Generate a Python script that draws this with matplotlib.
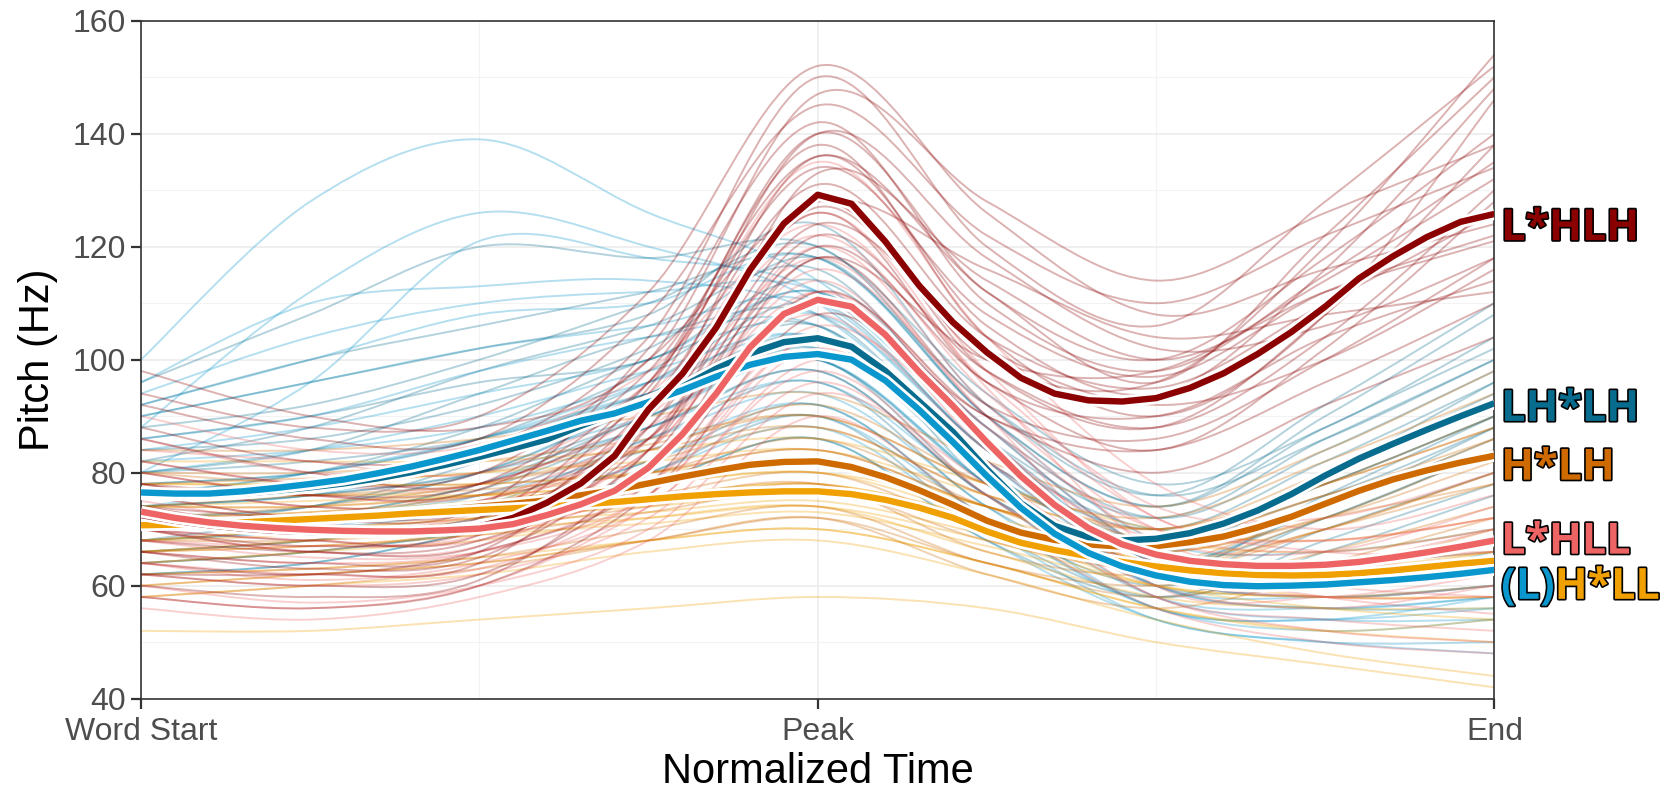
import numpy as np
import matplotlib
matplotlib.use("Agg")
import matplotlib.pyplot as plt
import matplotlib.patheffects as pe
from matplotlib.ticker import MultipleLocator
from matplotlib.path import Path
from matplotlib.patches import PathPatch
import matplotlib.transforms as mtransforms

# ---------------- data ----------------
# mean contours sampled every 0.05 of normalized time (0 = word start, 1 = peak, 2 = end)
mean_t = [i * 0.05 for i in range(41)]

mean_LsHLH = [72.5, 71.5, 70.7, 70.1, 69.7, 69.5, 69.4, 69.4, 69.5, 69.8,
              70.5, 72.0, 74.7, 78.1, 83.0, 91.2, 97.5, 105.7, 115.9, 124.1,
              129.2, 127.6, 120.9, 113.1, 106.6, 101.3, 96.8, 94.0, 92.8, 92.6,
              93.2, 95.0, 97.6, 101.0, 104.9, 109.4, 114.4, 118.3, 121.7, 124.4, 125.8]
mean_LsHLL = [73.1, 72.0, 71.2, 70.6, 70.2, 69.9, 69.7, 69.6, 69.6, 69.8,
              70.1, 70.9, 72.5, 74.4, 76.8, 80.9, 86.8, 94.0, 102.2, 108.1,
              110.6, 109.4, 104.4, 97.8, 91.8, 85.4, 79.4, 74.3, 70.2, 67.3,
              65.5, 64.4, 63.8, 63.5, 63.5, 63.7, 64.2, 65.0, 65.9, 66.9, 68.0]
mean_LHsLH = [76.2, 76.0, 76.0, 76.3, 76.8, 77.4, 78.1, 79.0, 80.1, 81.4,
              82.8, 84.3, 85.9, 88.3, 90.5, 92.8, 95.2, 98.4, 101.1, 103.1,
              103.8, 102.3, 98.0, 92.6, 87.2, 80.6, 74.6, 70.6, 68.6, 68.0,
              68.3, 69.3, 71.0, 73.3, 76.2, 79.5, 82.5, 85.1, 87.6, 90.0, 92.3]
mean_LHsLL = [76.5, 76.3, 76.3, 76.7, 77.3, 78.0, 78.8, 79.9, 81.1, 82.5,
              84.0, 85.7, 87.4, 89.2, 90.5, 92.5, 94.6, 97.0, 99.1, 100.5,
              101.0, 100.0, 96.3, 91.1, 85.4, 79.4, 73.8, 69.2, 65.8, 63.4,
              61.8, 60.7, 60.1, 59.9, 60.0, 60.2, 60.6, 61.0, 61.5, 62.1, 62.8]
mean_HsLH = [70.8, 70.9, 71.0, 71.2, 71.5, 71.8, 72.2, 72.6, 73.0, 73.5,
             74.0, 74.5, 75.1, 76.0, 76.9, 78.1, 79.3, 80.4, 81.4, 81.9,
             82.0, 81.0, 79.2, 76.9, 74.3, 71.5, 69.4, 68.1, 67.3, 66.9,
             67.0, 67.7, 68.7, 70.3, 72.2, 74.5, 76.8, 78.8, 80.4, 81.8, 83.0]
mean_HsLL = [70.7, 70.8, 71.0, 71.2, 71.5, 71.8, 72.1, 72.4, 72.8, 73.1,
             73.4, 73.7, 74.0, 74.4, 74.8, 75.3, 75.8, 76.2, 76.5, 76.7,
             76.7, 76.2, 75.2, 73.8, 72.0, 69.6, 67.6, 66.3, 65.2, 64.2,
             63.4, 62.7, 62.2, 61.9, 61.8, 61.9, 62.2, 62.7, 63.3, 63.9, 64.4]

# individual contours sampled every 0.25 of normalized time
ind_t = [0, 0.25, 0.5, 0.75, 1.0, 1.25, 1.5, 1.75, 2.0]

ind_LsHLH = [
    [74, 70, 71, 95, 140, 112, 100, 118, 140],
    [66, 63, 65, 84, 122, 98, 88, 104, 130],
    [80, 76, 77, 96, 134, 108, 97, 112, 122],
    [62, 60, 62, 80, 118, 92, 86, 100, 118],
    [88, 82, 84, 104, 150, 120, 106, 128, 152],
    [70, 68, 69, 92, 131, 104, 95, 110, 126],
    [64, 62, 66, 78, 112, 90, 84, 96, 110],
    [92, 86, 86, 108, 145, 122, 110, 122, 134],
    [72, 70, 72, 96, 138, 104, 90, 108, 146],
    [58, 56, 60, 76, 108, 90, 80, 92, 104],
    [78, 74, 75, 88, 127, 100, 96, 120, 154],
    [68, 66, 67, 86, 124, 102, 92, 100, 116],
    [98, 90, 88, 100, 147, 128, 114, 126, 138],
    [70, 66, 68, 84, 133, 114, 100, 112, 121],
    [76, 72, 74, 102, 142, 110, 98, 115, 135],
    [60, 58, 61, 82, 120, 96, 84, 102, 128],
    [82, 78, 80, 100, 128, 116, 104, 108, 112],
    [66, 64, 66, 90, 136, 106, 94, 116, 148],
    [74, 72, 73, 86, 118, 100, 98, 114, 132],
    [86, 80, 78, 94, 140, 118, 102, 106, 118],
    [62, 62, 64, 88, 128, 98, 88, 108, 138],
    [94, 88, 90, 112, 152, 126, 108, 116, 124],
    [70, 67, 70, 90, 126, 96, 90, 104, 114],
    [78, 76, 78, 98, 136, 112, 96, 122, 150],
]
ind_LsHLL = [
    [75, 71, 72, 86, 120, 92, 70, 66, 70],
    [68, 65, 66, 76, 104, 80, 62, 60, 64],
    [82, 78, 78, 92, 128, 98, 72, 68, 72],
    [62, 60, 62, 72, 96, 76, 60, 56, 60],
    [86, 80, 82, 96, 135, 104, 78, 70, 76],
    [70, 68, 68, 80, 112, 88, 66, 64, 66],
    [64, 61, 64, 74, 100, 82, 64, 58, 55],
    [90, 84, 85, 98, 124, 96, 74, 72, 80],
    [72, 70, 71, 84, 116, 90, 60, 58, 62],
    [56, 54, 58, 68, 90, 72, 56, 50, 48],
    [78, 74, 75, 88, 108, 84, 68, 66, 74],
    [66, 64, 66, 78, 106, 86, 62, 62, 68],
    [74, 70, 73, 90, 126, 95, 66, 60, 58],
    [60, 57, 60, 70, 94, 78, 58, 54, 52],
    [80, 76, 76, 90, 118, 90, 68, 62, 64],
    [70, 66, 67, 82, 110, 84, 64, 60, 62],
    [64, 62, 63, 76, 102, 80, 62, 58, 58],
    [84, 82, 80, 94, 122, 94, 72, 66, 66],
    [68, 67, 69, 84, 114, 86, 66, 64, 70],
    [58, 56, 60, 74, 98, 76, 58, 52, 50],
    [76, 72, 74, 86, 112, 88, 70, 68, 72],
    [72, 69, 70, 78, 104, 82, 62, 58, 60],
]
ind_LHsLH = [
    [78, 80, 86, 98, 112, 86, 72, 86, 100],
    [70, 72, 77, 88, 98, 76, 64, 74, 86],
    [84, 86, 92, 102, 118, 90, 74, 90, 108],
    [66, 68, 72, 82, 92, 72, 60, 70, 80],
    [90, 96, 102, 108, 124, 92, 76, 92, 110],
    [74, 76, 80, 90, 102, 80, 68, 78, 90],
    [80, 84, 94, 104, 108, 82, 70, 82, 96],
    [62, 64, 70, 80, 90, 70, 58, 66, 76],
    [96, 108, 120, 118, 120, 94, 78, 88, 104],
    [72, 74, 82, 94, 106, 78, 66, 80, 94],
    [86, 90, 96, 100, 114, 88, 72, 84, 98],
    [68, 70, 74, 86, 96, 74, 62, 72, 84],
    [76, 78, 84, 96, 110, 84, 70, 76, 88],
    [82, 88, 98, 106, 116, 86, 66, 80, 92],
    [76, 80, 88, 100, 106, 82, 68, 78, 90],
    [70, 74, 80, 92, 100, 78, 64, 74, 88],
    [88, 92, 100, 110, 120, 90, 74, 88, 102],
    [64, 66, 70, 78, 86, 68, 58, 68, 78],
    [80, 82, 86, 94, 104, 80, 68, 80, 96],
    [74, 76, 80, 88, 98, 76, 64, 72, 84],
    [92, 100, 106, 112, 118, 92, 76, 86, 100],
    [68, 72, 78, 90, 100, 76, 62, 76, 90],
]
ind_LHsLL = [
    [78, 80, 86, 96, 108, 84, 64, 62, 64],
    [70, 72, 78, 88, 96, 76, 58, 56, 58],
    [84, 88, 94, 100, 112, 88, 66, 64, 68],
    [66, 68, 72, 82, 90, 72, 56, 52, 54],
    [92, 100, 108, 110, 118, 90, 68, 66, 70],
    [74, 76, 82, 90, 100, 78, 60, 60, 62],
    [100, 128, 139, 126, 114, 88, 66, 64, 66],
    [88, 112, 126, 120, 110, 84, 64, 60, 62],
    [96, 110, 113, 114, 108, 82, 62, 58, 60],
    [80, 96, 121, 118, 112, 86, 64, 62, 64],
    [62, 64, 70, 80, 88, 70, 54, 50, 48],
    [72, 74, 80, 92, 104, 80, 60, 58, 60],
    [86, 90, 98, 104, 106, 80, 62, 60, 66],
    [68, 70, 76, 86, 94, 74, 56, 54, 56],
    [80, 84, 90, 98, 104, 82, 62, 58, 60],
    [74, 78, 84, 94, 102, 80, 60, 56, 56],
    [90, 96, 102, 106, 110, 84, 64, 62, 64],
    [64, 66, 70, 78, 86, 68, 54, 50, 50],
    [82, 84, 88, 96, 104, 80, 60, 56, 58],
    [94, 104, 110, 112, 112, 86, 66, 62, 64],
    [70, 72, 76, 84, 92, 72, 56, 54, 58],
    [76, 80, 86, 94, 100, 78, 58, 54, 54],
]
ind_HsLH = [
    [72, 73, 76, 82, 88, 76, 70, 78, 88],
    [66, 67, 69, 73, 77, 68, 63, 70, 78],
    [78, 79, 80, 85, 90, 78, 72, 82, 94],
    [62, 63, 65, 70, 74, 64, 60, 66, 74],
    [84, 84, 86, 90, 94, 82, 74, 84, 98],
    [70, 72, 74, 78, 82, 72, 66, 72, 82],
    [58, 60, 63, 68, 72, 62, 56, 62, 70],
    [74, 76, 78, 84, 92, 78, 70, 80, 92],
    [68, 70, 72, 76, 80, 70, 64, 74, 86],
    [80, 78, 78, 80, 84, 74, 68, 76, 84],
    [64, 66, 70, 75, 78, 66, 62, 70, 80],
    [76, 76, 77, 80, 86, 74, 66, 72, 78],
    [74, 74, 76, 80, 84, 74, 68, 76, 86],
    [68, 68, 70, 74, 78, 70, 64, 70, 80],
    [72, 74, 78, 84, 88, 76, 68, 78, 90],
    [60, 62, 64, 68, 72, 64, 58, 64, 72],
    [80, 80, 82, 86, 90, 78, 70, 78, 88],
    [66, 68, 72, 78, 82, 72, 64, 72, 84],
]
ind_HsLL = [
    [72, 73, 75, 78, 80, 74, 66, 63, 66],
    [66, 67, 69, 71, 73, 67, 60, 58, 60],
    [78, 78, 80, 82, 84, 76, 68, 66, 70],
    [62, 63, 65, 68, 70, 64, 56, 52, 54],
    [82, 82, 82, 84, 86, 78, 70, 68, 72],
    [70, 71, 73, 75, 77, 71, 62, 60, 62],
    [58, 60, 62, 66, 68, 62, 54, 48, 44],
    [74, 74, 76, 78, 82, 74, 64, 62, 66],
    [68, 70, 72, 74, 76, 70, 60, 58, 58],
    [76, 76, 76, 76, 78, 72, 66, 64, 68],
    [64, 66, 68, 72, 74, 66, 58, 56, 56],
    [52, 52, 54, 56, 58, 56, 50, 46, 42],
    [74, 75, 76, 78, 80, 72, 64, 60, 62],
    [68, 69, 71, 73, 75, 69, 62, 58, 58],
    [72, 72, 74, 76, 78, 72, 64, 62, 64],
    [60, 62, 64, 68, 70, 64, 56, 52, 50],
    [78, 78, 78, 80, 82, 74, 66, 64, 66],
    [66, 68, 70, 72, 74, 68, 60, 56, 54],
]

x_tick_pos = [0, 1, 2]
x_tick_labels = ["Word Start", "Peak", "End"]

# colours
C_LsHLH = "#8B0000"
C_LsHLL = "#EE6464"
C_LHsLH = "#086C8E"
C_LHsLL = "#0A97CD"
C_HsLH = "#CF6A00"
C_HsLL = "#F0A000"


def smooth_path(xs, ys):
    """Cubic Bezier path through the given knots (Catmull-Rom tangents)."""
    xs = np.asarray(xs, float)
    ys = np.asarray(ys, float)
    n = len(xs)
    verts = [(xs[0], ys[0])]
    codes = [Path.MOVETO]
    for i in range(n - 1):
        i0 = max(i - 1, 0)
        i3 = min(i + 2, n - 1)
        c1 = (xs[i] + (xs[i + 1] - xs[i0]) / 6.0, ys[i] + (ys[i + 1] - ys[i0]) / 6.0)
        c2 = (xs[i + 1] - (xs[i3] - xs[i]) / 6.0, ys[i + 1] - (ys[i3] - ys[i]) / 6.0)
        verts += [c1, c2, (xs[i + 1], ys[i + 1])]
        codes += [Path.CURVE4] * 3
    return Path(verts, codes)


# ---------------- figure ----------------
plt.rcParams["font.family"] = ["Liberation Sans", "DejaVu Sans"]
fig = plt.figure(figsize=(16.81, 7.98), dpi=100)
ax = fig.add_axes([0.0839, 0.1245, 0.889 - 0.0839, 0.9740 - 0.1245])

# individual contours (background)
bg_groups = [
    (ind_LHsLL, C_LHsLL), (ind_LHsLH, C_LHsLH),
    (ind_HsLL, C_HsLL), (ind_HsLH, C_HsLH),
    (ind_LsHLL, C_LsHLL), (ind_LsHLH, C_LsHLH),
]
for contours, col in bg_groups:
    for c in contours:
        patch = PathPatch(smooth_path(ind_t, c), facecolor="none", edgecolor=col,
                          alpha=0.3, lw=1.4, zorder=2)
        ax.add_patch(patch)

# mean contours with white outline
outline = [pe.Stroke(linewidth=8.6, foreground="white"), pe.Normal()]
mean_groups = [
    (mean_HsLH, C_HsLH), (mean_HsLL, C_HsLL),
    (mean_LHsLH, C_LHsLH), (mean_LHsLL, C_LHsLL),
    (mean_LsHLH, C_LsHLH), (mean_LsHLL, C_LsHLL),
]
for vals, col in mean_groups:
    ax.plot(mean_t, vals, color=col, lw=4.6, solid_capstyle="butt",
            solid_joinstyle="round", path_effects=outline, zorder=5)

# axes styling
ax.set_xlim(0, 2)
ax.set_ylim(40, 160)
ax.set_xticks(x_tick_pos)
ax.set_xticklabels(x_tick_labels)
ax.yaxis.set_major_locator(MultipleLocator(20))
ax.yaxis.set_minor_locator(MultipleLocator(10))
ax.xaxis.set_minor_locator(MultipleLocator(0.5))
ax.grid(which="major", color="#EBEBEB", lw=1.1, zorder=0)
ax.grid(which="minor", color="#F3F3F3", lw=0.8, zorder=0)
ax.set_axisbelow(True)
ax.tick_params(which="major", length=7, width=1.6, color="#333333",
               labelsize=23, labelcolor="#4D4D4D")
ax.tick_params(axis="y", pad=4)
ax.tick_params(axis="x", pad=6)
ax.tick_params(which="minor", length=0)
for s in ax.spines.values():
    s.set_color("#333333")
    s.set_linewidth(1.2)

ax.set_xlabel("Normalized Time", fontsize=30, color="black", labelpad=4)
ax.set_ylabel("Pitch (Hz)", fontsize=30, color="black", labelpad=10)

# right-hand labels
trans = mtransforms.blended_transform_factory(ax.transAxes, ax.transData)
lab_kw = dict(fontsize=31, fontweight="bold", family=["Open Sans", "DejaVu Sans"],
              va="center", ha="left",
              path_effects=[pe.withStroke(linewidth=2.4, foreground="black")])
ax.text(1.005, 123.2, "L*HLH", color=C_LsHLH, transform=trans, **lab_kw)
ax.text(1.005, 91.2, "LH*LH", color=C_LHsLH, transform=trans, **lab_kw)
ax.text(1.005, 80.8, "H*LH", color=C_HsLH, transform=trans, **lab_kw)
ax.text(1.005, 67.7, "L*HLL", color=C_LsHLL, transform=trans, **lab_kw)
t1 = ax.text(1.005, 59.7, "(L)", color=C_LHsLL, transform=trans, **lab_kw)
ax.annotate("H*LL", xy=(1, 0.5), xycoords=t1, color=C_HsLL, **lab_kw)

fig.savefig("out.png", dpi=100)
